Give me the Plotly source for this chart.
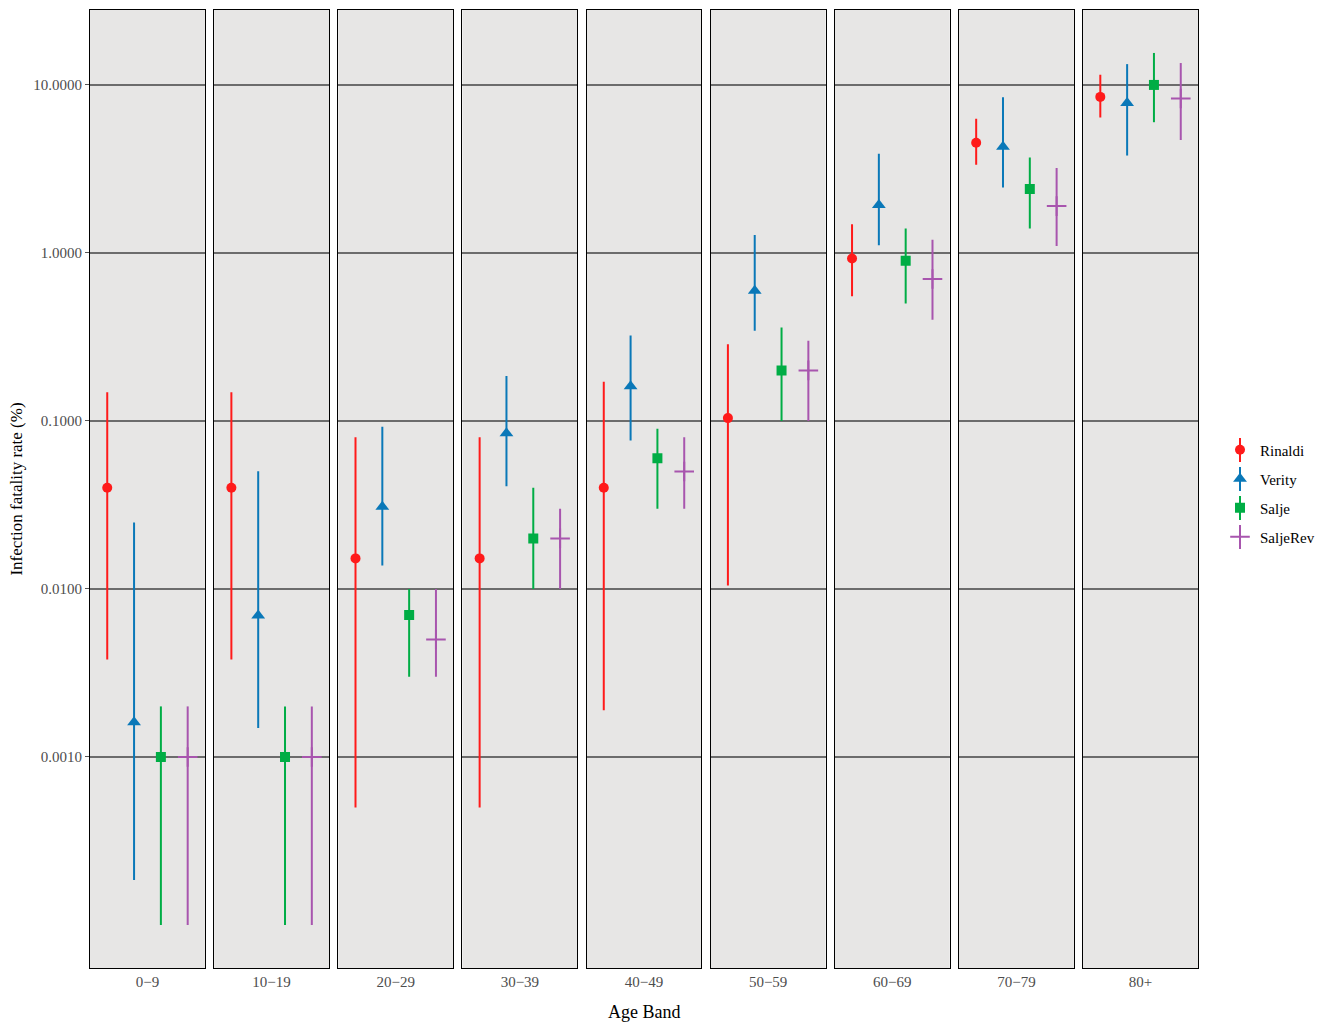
import plotly.graph_objects as go
from plotly.subplots import make_subplots

# Age bands shown as facets
age_bands = ["0−9", "10−19", "20−29", "30−39", "40−49", "50−59", "60−69", "70−79", "80+"]

# Infection fatality rate (%) estimates with lower/upper intervals, per study
rinaldi = [0.04, 0.04, 0.0152, 0.0152, 0.04, 0.104, 0.926, 4.53, 8.49]
rinaldi_lo = [0.0038, 0.0038, 0.0005, 0.0005, 0.0019, 0.0105, 0.552, 3.35, 6.4]
rinaldi_hi = [0.148, 0.148, 0.08, 0.08, 0.171, 0.286, 1.48, 6.3, 11.5]

verity = [0.00161, 0.00695, 0.0309, 0.0844, 0.161, 0.595, 1.93, 4.28, 7.8]
verity_lo = [0.000185, 0.00149, 0.0138, 0.0408, 0.0764, 0.344, 1.11, 2.45, 3.8]
verity_hi = [0.0249, 0.0502, 0.0923, 0.185, 0.323, 1.28, 3.89, 8.44, 13.3]

salje = [0.001, 0.001, 0.007, 0.02, 0.06, 0.2, 0.9, 2.4, 10.0]
salje_lo = [0.0001, 0.0001, 0.003, 0.01, 0.03, 0.1, 0.5, 1.4, 6.0]
salje_hi = [0.002, 0.002, 0.01, 0.04, 0.09, 0.36, 1.4, 3.7, 15.5]

saljerev = [0.001, 0.001, 0.005, 0.02, 0.05, 0.2, 0.7, 1.9, 8.3]
saljerev_lo = [0.0001, 0.0001, 0.003, 0.01, 0.03, 0.1, 0.4, 1.1, 4.7]
saljerev_hi = [0.002, 0.002, 0.01, 0.03, 0.08, 0.3, 1.2, 3.2, 13.5]

y_ticks = [0.001, 0.01, 0.1, 1, 10]
y_tick_labels = ["0.0010", "0.0100", "0.1000", "1.0000", "10.0000"]

series = [
    ("Rinaldi", rinaldi, rinaldi_lo, rinaldi_hi),
    ("Verity", verity, verity_lo, verity_hi),
    ("Salje", salje, salje_lo, salje_hi),
    ("SaljeRev", saljerev, saljerev_lo, saljerev_hi),
]

# styling: colour, marker symbol, marker size, dodge offset within a facet
styles = {
    "Rinaldi": dict(color="#FF1A1A", symbol="circle", size=10, offset=-0.42),
    "Verity": dict(color="#0A78B8", symbol="triangle-up", size=12, offset=-0.14),
    "Salje": dict(color="#00AD45", symbol="square", size=10, offset=0.14),
    "SaljeRev": dict(color="#A855AE", symbol="cross-thin", size=14, offset=0.42),
}

FONT = "Liberation Serif"
W, H = 1331, 1022
M_L, M_R, M_T, M_B = 90, 133, 10, 54
PLOT_H = H - M_T - M_B

n = len(age_bands)
fig = make_subplots(rows=1, cols=n, shared_yaxes=True, horizontal_spacing=9.2 / 1108)

for i, band in enumerate(age_bands):
    for name, vals, lo, hi in series:
        st = styles[name]
        v = vals[i]
        marker = dict(color=st["color"], symbol=st["symbol"], size=st["size"])
        if st["symbol"] == "cross-thin":
            marker["line"] = dict(color=st["color"], width=2)
        fig.add_trace(
            go.Scatter(
                x=[st["offset"]],
                y=[v],
                mode="markers",
                name=name,
                legendgroup=name,
                showlegend=(i == 0),
                marker=marker,
                error_y=dict(
                    type="data",
                    symmetric=False,
                    array=[hi[i] - v],
                    arrayminus=[v - lo[i]],
                    color=st["color"],
                    thickness=2,
                    width=0,
                ),
            ),
            row=1,
            col=i + 1,
        )
    fig.update_xaxes(
        range=[-0.6, 0.6],
        tickvals=[0],
        ticktext=[band],
        showgrid=False,
        zeroline=False,
        showline=True,
        mirror=True,
        linecolor="black",
        linewidth=1.2,
        ticks="",
        tickfont=dict(family=FONT, size=15, color="#4D4D4D"),
        row=1,
        col=i + 1,
    )
    fig.update_yaxes(
        type="log",
        range=[-4.256, 1.446],
        tickvals=y_ticks,
        ticktext=y_tick_labels,
        showgrid=True,
        gridcolor="#6C6C6C",
        gridwidth=1.5,
        zeroline=False,
        showline=True,
        mirror=True,
        linecolor="black",
        linewidth=1.2,
        ticks="outside" if i == 0 else "",
        ticklen=4,
        tickcolor="#555555",
        showticklabels=(i == 0),
        tickfont=dict(family=FONT, size=15, color="#4D4D4D"),
        row=1,
        col=i + 1,
    )

fig.update_yaxes(
    title=dict(text="Infection fatality rate (%)", font=dict(family=FONT, size=17, color="black"), standoff=6),
    row=1,
    col=1,
)

fig.add_annotation(
    text="Age Band",
    xref="paper",
    yref="paper",
    x=0.5,
    y=0,
    yshift=-44,
    yanchor="middle",
    showarrow=False,
    font=dict(family=FONT, size=18, color="black"),
)

# vertical error-bar strokes through the legend keys
legend_key_x_px = 1240
legend_first_y_px = 450
legend_step_px = 29
for k, (name, *_rest) in enumerate(series):
    cy = legend_first_y_px + legend_step_px * k
    xp = (legend_key_x_px - M_L) / (W - M_L - M_R)
    fig.add_shape(
        type="line",
        xref="paper",
        yref="paper",
        x0=xp,
        x1=xp,
        y0=1 - (cy - 12 - M_T) / PLOT_H,
        y1=1 - (cy + 12 - M_T) / PLOT_H,
        line=dict(color=styles[name]["color"], width=2),
        layer="above",
    )

fig.update_layout(
    width=W,
    height=H,
    margin=dict(l=M_L, r=M_R, t=M_T, b=M_B),
    paper_bgcolor="white",
    plot_bgcolor="#E7E6E5",
    font=dict(family=FONT, size=15, color="black"),
    legend=dict(
        x=(1220 - M_L) / (W - M_L - M_R),
        y=1 - (493.5 - M_T) / PLOT_H,
        xanchor="left",
        yanchor="middle",
        font=dict(family=FONT, size=15, color="black"),
        bgcolor="rgba(0,0,0,0)",
        itemwidth=30,
        tracegroupgap=6.5,
    ),
    showlegend=True,
)

fig.write_html("out.html")
